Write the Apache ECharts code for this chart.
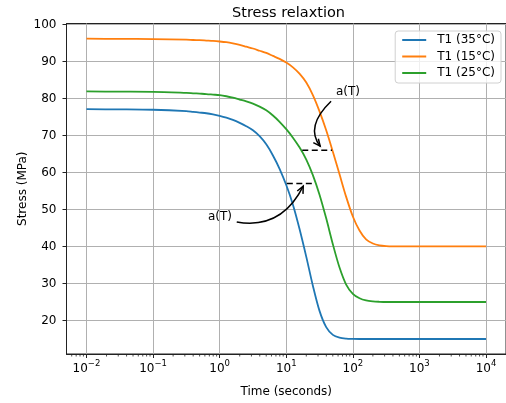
<!DOCTYPE html>
<html><head><meta charset="utf-8">
<script src="https://cdn.jsdelivr.net/npm/echarts@6/dist/echarts.min.js"></script>
<style>html,body{margin:0;padding:0;background:#fff}#c{width:506px;height:403px}</style>
</head><body><div id="c"></div>
<script>
// ---- data ----
const times = [0.01, 0.0316, 0.1,
  0.316, 0.398, 0.501, 0.631, 0.794, 1, 1.26, 1.58, 2.0, 2.51, 3.16, 3.98, 5.01, 6.31, 7.94,
  10, 12.6, 15.8, 20.0, 25.1, 31.6, 39.8, 50.1, 63.1, 79.4, 100, 126, 158, 200, 251, 316, 398,
  1000, 3162, 10000];
const stress35 = [77.1, 77.05, 76.95,
  76.6, 76.4, 76.2, 76.0, 75.7, 75.3, 74.8, 74.2, 73.4, 72.5, 71.4, 69.8, 67.6, 64.6, 61.0,
  56.6, 51.3, 44.8, 37.2, 29.4, 22.6, 18.2, 16.1, 15.35, 15.1, 15.03, 15, 15, 15, 15, 15, 15,
  15, 15, 15];
const stress15 = [96.15, 96.1, 96.05,
  95.9, 95.8, 95.75, 95.65, 95.55, 95.4, 95.2, 94.9, 94.5, 94.0, 93.5, 92.9, 92.3, 91.5, 90.7,
  89.7, 88.4, 86.7, 84.3, 80.9, 76.5, 71.4, 65.6, 59.5, 53.4, 48.1, 44.3, 41.9, 40.8, 40.3, 40.1, 40.03,
  40, 40, 40];
const stress25 = [81.9, 81.85, 81.8,
  81.5, 81.4, 81.3, 81.2, 81.05, 80.9, 80.6, 80.2, 79.7, 79.2, 78.6, 77.8, 76.8, 75.4, 73.7,
  71.7, 69.4, 66.8, 63.5, 59.3, 54.0, 47.6, 40.6, 34.3, 29.7, 27.2, 26.0, 25.4, 25.15, 25.05, 25, 25,
  25, 25, 25];
const seriesNames = ['T1 (35°C)', 'T1 (15°C)', 'T1 (25°C)'];
const seriesColors = ['#1f77b4', '#ff7f0e', '#2ca02c'];
const xTickExponents = [-2, -1, 0, 1, 2, 3, 4];
const yTicks = [20, 30, 40, 50, 60, 70, 80, 90, 100];
const titleText = 'Stress relaxtion';
const xName = 'Time (seconds)';
const yName = 'Stress (MPa)';
// annotations (data coordinates: time, stress)
const annotLabels = ['a(T)', 'a(T)'];
const annotTextAt = [[55.8, 81.8], [0.667, 48.0]];
const arrowTail = [[47.1, 79.25], [1.805, 46.63]];
const arrowCtrl = [[19.0, 72.4], [8.47, 44.5]];
const arrowTip = [[32.3, 67.1], [18.0, 56.3]];
const dashLevel = [66, 57];
const dashFrom = [17.4, 10.2];
const dashTo = [48.8, 26.9];

// ---- axis ranges ----
const X_MIN = -2.3, X_MAX = 4.3;
const Y_MIN = 10.94, Y_MAX = 100.26;
const minorTicks = [];
for (let n = -3; n <= 4; n++) for (let k = 2; k <= 9; k++) {
  const v = Math.log10(k * Math.pow(10, n));
  if (v > X_MIN && v < X_MAX) minorTicks.push(v);
}
const FONT = 'DejaVu Sans';
const lg = t => Math.log10(t);

const chart = echarts.init(document.getElementById('c'));
const lineSeries = [stress35, stress15, stress25].map((arr, i) => ({
  name: seriesNames[i], type: 'line', symbol: 'none', showSymbol: false,
  smooth: 0.3,
  data: times.map((t, j) => [lg(t), arr[j]]),
  lineStyle: { color: seriesColors[i], width: 1.8 }, itemStyle: { color: seriesColors[i] },
  z: 3
}));
const dashSeries = dashLevel.map((yv, i) => ({
  type: 'line', symbol: 'none', silent: true,
  data: [[lg(dashFrom[i]), yv], [lg(dashTo[i]), yv]],
  lineStyle: { color: '#000', width: 1.5, type: [6, 3.5] }, z: 4
}));

const option = {
  animation: false,
  backgroundColor: '#fff',
  title: { text: titleText, left: 227, top: 1, textStyle: { fontFamily: FONT, fontSize: 14.5, fontWeight: 'normal', color: '#000' } },
  grid: { left: 66.5, top: 23.5, width: 442.5, height: 331.5, show: true, borderColor: '#222', borderWidth: 1, backgroundColor: 'transparent' },
  legend: {
    data: seriesNames, orient: 'vertical', right: 5, top: 31,
    icon: 'rect', itemWidth: 24, itemHeight: 2, itemGap: 4.5,
    padding: [3, 6, 4, 7],
    backgroundColor: 'rgba(255,255,255,0.8)', borderColor: '#d0d0d0', borderWidth: 1, borderRadius: 3,
    textStyle: { fontFamily: FONT, fontSize: 12, color: '#000', padding: [0, 0, 0, 6] }
  },
  xAxis: {
    type: 'value', min: X_MIN, max: X_MAX,
    name: xName, nameLocation: 'middle', nameGap: 32, nameMoveOverlap: false,
    nameTextStyle: { fontFamily: FONT, fontSize: 12, color: '#000' },
    axisLine: { show: true, onZero: false, lineStyle: { color: '#222', width: 1 } },
    axisTick: { show: true, customValues: xTickExponents, length: 4, lineStyle: { color: '#222', width: 1 } },
    axisLabel: {
      customValues: xTickExponents, margin: 8,
      formatter: v => { const e = Math.round(v); return '{b|10}{s|' + (e < 0 ? '\u2212' + (-e) : e) + '}'; },
      rich: {
        b: { fontFamily: FONT, fontSize: 12, color: '#000', lineHeight: 14 },
        s: { fontFamily: FONT, fontSize: 8.5, color: '#000', lineHeight: 10, padding: [0, 0, 10, 0] }
      }
    },
    splitLine: { show: true, lineStyle: { color: '#b0b0b0', width: 1 } }
  },
  yAxis: {
    type: 'value', min: Y_MIN, max: Y_MAX,
    name: yName, nameLocation: 'middle', nameGap: 38, nameRotate: 90, nameMoveOverlap: false,
    nameTextStyle: { fontFamily: FONT, fontSize: 12, color: '#000' },
    axisLine: { show: true, onZero: false, lineStyle: { color: '#222', width: 1 } },
    axisTick: { show: true, customValues: yTicks, length: 4, lineStyle: { color: '#222', width: 1 } },
    axisLabel: { customValues: yTicks, margin: 10, fontFamily: FONT, fontSize: 12, color: '#000' },
    splitLine: { show: true, lineStyle: { color: '#b0b0b0', width: 1 } }
  },
  series: [
    ...lineSeries,
    ...dashSeries,
    {
      type: 'custom', silent: true, clip: false, z: 2,
      data: minorTicks.map(v => [v]),
      renderItem: (params, api) => {
        const p = api.coord([api.value(0), Y_MIN]);
        return { type: 'line', shape: { x1: p[0], y1: p[1], x2: p[0], y2: p[1] + 2.5 }, style: { stroke: '#222', lineWidth: 0.8 } };
      }
    },
    {
      type: 'custom', silent: true, clip: false, z: 5,
      data: annotLabels.map((s, i) => [i]),
      renderItem: (params, api) => {
        const i = api.value(0);
        const c = a => api.coord([lg(a[0]), a[1]]);
        const P0 = c(arrowTail[i]), C = c(arrowCtrl[i]), P2 = c(arrowTip[i]), T = c(annotTextAt[i]);
        let dx = P2[0] - C[0], dy = P2[1] - C[1];
        const len = Math.hypot(dx, dy); dx /= len; dy /= len;
        const L = 7, W = 3.2;
        const bx = P2[0] - dx * L, by = P2[1] - dy * L;
        return {
          type: 'group', children: [
            { type: 'bezierCurve', shape: { x1: P0[0], y1: P0[1], cpx1: C[0], cpy1: C[1], x2: P2[0], y2: P2[1] }, style: { stroke: '#000', lineWidth: 1.5, fill: null } },
            { type: 'polyline', shape: { points: [[bx - dy * W, by + dx * W], [P2[0], P2[1]], [bx + dy * W, by - dx * W]] }, style: { stroke: '#000', lineWidth: 1.5, fill: null } },
            { type: 'text', style: { text: annotLabels[i], x: T[0], y: T[1], fill: '#000', fontFamily: FONT, fontSize: 12, align: 'left', verticalAlign: 'middle' } }
          ]
        };
      }
    }
  ]
};
chart.setOption(option);
</script>
</body></html>
